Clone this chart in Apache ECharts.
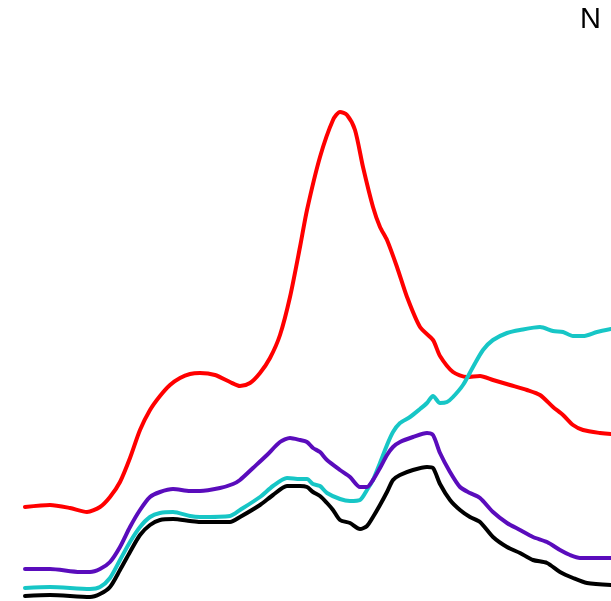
<!DOCTYPE html>
<html>
<head>
<meta charset="utf-8">
<script src="https://cdn.jsdelivr.net/npm/echarts@6/dist/echarts.min.js"></script>
<style>
  html, body { margin: 0; padding: 0; background: #fff; }
  #chart { width: 611px; height: 601px; }
</style>
</head>
<body>
<div id="chart"></div>
<script>
const redLine = [
  [25, 94], [50, 96], [70, 93], [87, 89], [100, 94], [110, 104], [120, 119], [130, 143], [140, 171],
  [150, 191], [160, 205], [170, 216], [180, 223], [190, 227], [200, 228], [215, 226], [230, 219],
  [240, 215], [250, 218], [260, 228], [270, 243], [280, 266], [290, 304], [300, 354], [307, 391],
  [320, 444], [333, 481], [340, 489], [347, 486], [355, 471], [363, 434], [373, 394], [380, 374],
  [387, 361], [397, 334], [407, 304], [420, 274], [433, 261], [440, 245], [453, 229], [467, 224],
  [480, 225], [493, 221], [510, 216], [527, 211], [540, 206], [553, 194], [563, 186], [573, 176],
  [583, 171], [600, 168], [611, 167]
];
const cyanLine = [
  [25, 13], [50, 14], [90, 12], [100, 14], [110, 23], [120, 41], [130, 59], [140, 74], [150, 84],
  [160, 88], [173, 89], [190, 85], [200, 84], [230, 85], [240, 91], [260, 104], [273, 115],
  [287, 123], [300, 122], [307, 122], [313, 117], [320, 115], [327, 108], [340, 102], [350, 100],
  [360, 101], [367, 111], [373, 121], [380, 138], [387, 156], [393, 169], [400, 178], [410, 184],
  [420, 192], [427, 198], [433, 205], [440, 198], [447, 199], [453, 204], [463, 216], [473, 234],
  [483, 251], [493, 261], [507, 268], [520, 271], [540, 274], [553, 270], [563, 269], [573, 265],
  [583, 265], [597, 269], [611, 272]
];
const purpleLine = [
  [25, 32], [50, 32], [80, 29], [90, 29], [100, 32], [110, 39], [120, 54], [130, 74], [140, 91],
  [150, 104], [160, 109], [173, 112], [190, 110], [200, 110], [220, 113], [233, 117], [240, 121],
  [253, 133], [267, 146], [280, 159], [290, 163], [300, 161], [307, 159], [313, 153], [320, 149],
  [327, 141], [340, 131], [350, 124], [360, 114], [367, 114], [373, 121], [380, 133], [387, 146],
  [393, 154], [400, 159], [413, 164], [427, 168], [433, 166], [440, 148], [450, 129], [460, 114],
  [470, 108], [480, 103], [493, 89], [507, 78], [520, 71], [533, 64], [547, 59], [560, 51],
  [570, 46], [580, 43], [611, 43]
];
const blackLine = [
  [25, 5], [50, 6], [90, 4], [100, 7], [110, 14], [120, 31], [130, 49], [140, 66], [150, 76],
  [160, 81], [173, 82], [190, 80], [200, 79], [230, 79], [240, 84], [260, 96], [273, 106],
  [287, 115], [300, 115], [307, 114], [313, 109], [320, 105], [327, 98], [333, 91], [340, 81],
  [350, 78], [360, 72], [367, 75], [373, 84], [380, 96], [387, 109], [393, 121], [400, 126],
  [413, 131], [427, 134], [433, 133], [440, 117], [450, 101], [460, 91], [470, 84], [480, 79],
  [493, 64], [507, 54], [520, 48], [533, 41], [547, 38], [560, 29], [573, 23], [587, 18], [611, 16]
];
const cornerLabel = 'N';

const makeLine = (name, data, color) => ({
  name,
  type: 'line',
  data,
  smooth: 0.25,
  symbol: 'none',
  lineStyle: { color, width: 4, cap: 'round', join: 'round' },
  animation: false
});

const chart = echarts.init(document.getElementById('chart'), null, { renderer: 'canvas' });
chart.setOption({
  animation: false,
  title: {
    text: cornerLabel,
    right: 5,
    top: 0,
    textStyle: { fontFamily: 'Liberation Sans', fontWeight: 'normal', fontSize: 29, color: '#000' }
  },
  grid: { left: 0, right: 0, top: 0, bottom: 0 },
  xAxis: { type: 'value', min: 0, max: 611, show: false },
  yAxis: { type: 'value', min: 0, max: 601, show: false },
  series: [
    makeLine('red', redLine, '#ff0000'),
    makeLine('cyan', cyanLine, '#17c6c6'),
    makeLine('purple', purpleLine, '#5a0cbc'),
    makeLine('black', blackLine, '#000000')
  ]
});
</script>
</body>
</html>
